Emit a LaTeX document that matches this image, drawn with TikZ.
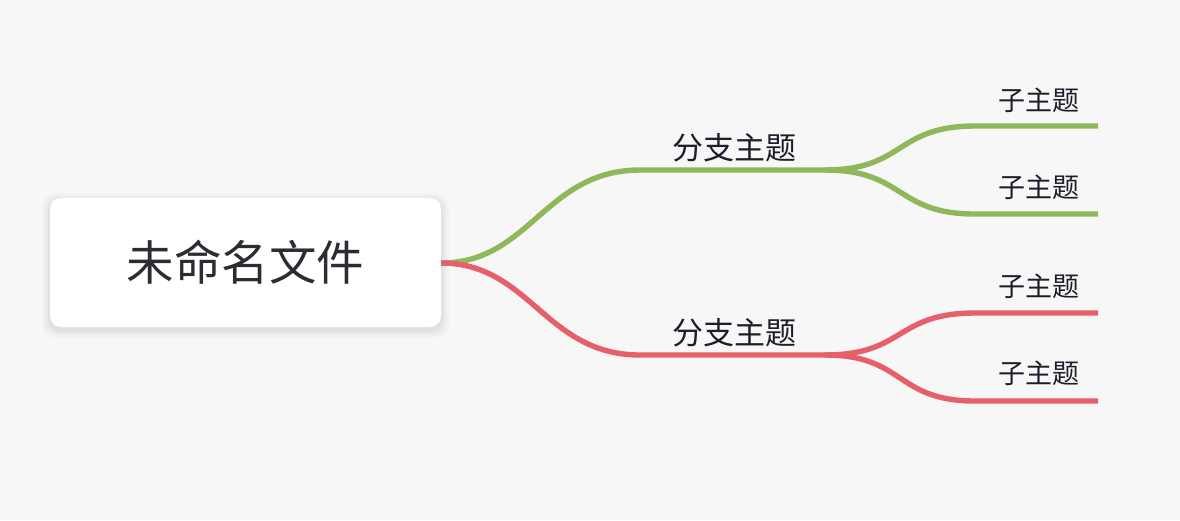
\documentclass[tikz,border=0pt]{standalone}
\usepackage{fontspec}
\newfontfamily\cjk{Noto Sans CJK SC}
\definecolor{bg}{HTML}{F7F7F7}
\definecolor{gbr}{HTML}{8FB85A}
\definecolor{rbr}{HTML}{E5606A}
\definecolor{txt}{HTML}{2B2D33}
\definecolor{stxt}{HTML}{1E1E2A}
\begin{document}
\begin{tikzpicture}[x=1pt,y=-1pt,
  branch/.style={line width=5.4pt,line cap=butt},
  lbl/.style={inner sep=0pt,text=stxt,font=\cjk\fontsize{31}{34}\selectfont},
  sublbl/.style={inner sep=0pt,text=stxt,font=\cjk\fontsize{27}{30}\selectfont},
  rootbox/.style={fill=white,rounded corners=11pt,minimum width=391pt,minimum height=129pt,inner sep=0pt,text=txt,font=\cjk\fontsize{47.5}{52}\selectfont}]
\fill[bg] (0,0) rectangle (1180,520);
\useasboundingbox (0,0) rectangle (1180,520);
% shadow
\foreach \d/\o in {8/0.015,6/0.02,4/0.025,2/0.03}{
  \fill[black,opacity=\o,rounded corners=13pt] (50-\d,198-\d+3) rectangle (441+\d,327+\d+3);
}
\node[rootbox] (root) at (245.5,262.5) {未命名文件};
\coordinate (rs) at (441,263);
% green branch
\coordinate (g0) at (640,170);
\coordinate (g1) at (825,170);
\coordinate (g1a) at (975,126);
\coordinate (g1b) at (1098,126);
\coordinate (g2a) at (975,214);
\coordinate (g2b) at (1098,214);
\draw[branch,gbr] (rs) .. controls (530,263) and (545,170) .. (g0) -- (g1);
\draw[branch,gbr] (g1) .. controls (905,170) and (895,126) .. (g1a) -- (g1b);
\draw[branch,gbr] (g1) .. controls (905,170) and (895,214) .. (g2a) -- (g2b);
% red branch
\coordinate (r0) at (640,355);
\coordinate (r1) at (825,355);
\coordinate (r1a) at (975,313);
\coordinate (r1b) at (1098,313);
\coordinate (r2a) at (975,401);
\coordinate (r2b) at (1098,401);
\draw[branch,rbr] (rs) .. controls (530,263) and (545,355) .. (r0) -- (r1);
\draw[branch,rbr] (r1) .. controls (905,355) and (895,313) .. (r1a) -- (r1b);
\draw[branch,rbr] (r1) .. controls (905,355) and (895,401) .. (r2a) -- (r2b);
% labels
\node[lbl] (gb) at (734.5,148) {分支主题};
\node[lbl] (rb) at (734.5,333) {分支主题};
\node[sublbl] (gs1) at (1038.5,100) {子主题};
\node[sublbl] (gs2) at (1038.5,187) {子主题};
\node[sublbl] (rs1) at (1038.5,286) {子主题};
\node[sublbl] (rs2) at (1038.5,373) {子主题};
\end{tikzpicture}
\end{document}
